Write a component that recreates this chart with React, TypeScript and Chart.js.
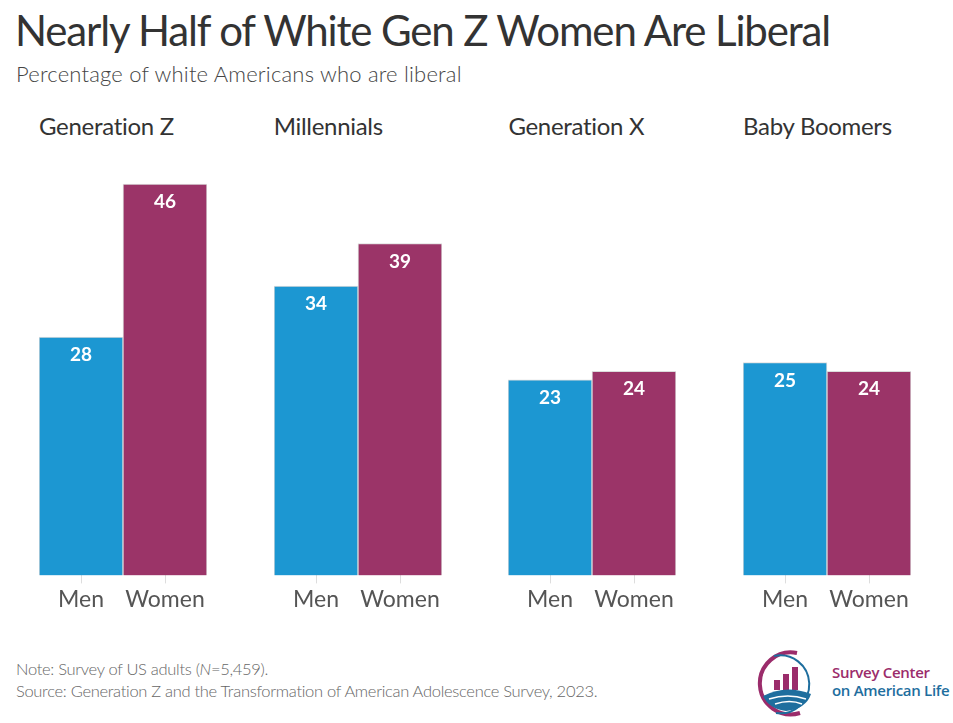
import React, { useEffect, useRef } from "react";
import { Chart, registerables } from "chart.js";

Chart.register(...registerables);

const panels = ["Generation Z", "Millennials", "Generation X", "Baby Boomers"];
const genders = ["Men", "Women"];
const menValues = [28, 34, 23, 25];
const womenValues = [46, 39, 24, 24];

const BLUE = "#1C97D2";
const PURPLE = "#9B3468";
const FONT = "Lato, 'Noto Sans', sans-serif";

const valueLabels = {
  id: "valueLabels",
  afterDatasetsDraw(chart: any) {
    const ctx = chart.ctx;
    const meta = chart.getDatasetMeta(0);
    const data = chart.data.datasets[0].data as number[];
    ctx.save();
    ctx.fillStyle = "#ffffff";
    ctx.font = `bold 19px ${FONT}`;
    ctx.textAlign = "center";
    ctx.textBaseline = "middle";
    meta.data.forEach((bar: any, i: number) => {
      ctx.fillText(String(data[i]), bar.x, bar.y + 18);
    });
    ctx.restore();
  },
};

function Panel({ index }: { index: number }) {
  const ref = useRef<HTMLCanvasElement | null>(null);
  useEffect(() => {
    if (!ref.current) return;
    const chart = new Chart(ref.current, {
      type: "bar",
      data: {
        labels: genders,
        datasets: [
          {
            data: [menValues[index], womenValues[index]],
            backgroundColor: [BLUE, PURPLE],
            borderColor: "#dcdcdc",
            borderWidth: 1,
            categoryPercentage: 1,
            barPercentage: 1,
          },
        ],
      },
      options: {
        animation: false,
        responsive: false,
        maintainAspectRatio: false,
        layout: { padding: 0 },
        plugins: {
          legend: { display: false },
          tooltip: { enabled: false },
          title: { display: false },
        },
        scales: {
          x: {
            grid: {
              display: true,
              offset: false,
              drawOnChartArea: false,
              drawTicks: true,
              tickLength: 8,
              color: "#dddddd",
            },
            border: { display: false },
            ticks: {
              color: "#555555",
              font: { family: FONT, size: 23 },
              padding: 2,
              maxRotation: 0,
              minRotation: 0,
              autoSkip: false,
            },
          },
          y: {
            display: false,
            min: 0,
            max: 50,
          },
        },
      },
      plugins: [valueLabels],
    });
    return () => chart.destroy();
  }, [index]);

  const left = 39 + index * 234.7;
  return (
    <>
      <div
        style={{
          position: "absolute",
          left: left,
          top: 111,
          fontFamily: FONT,
          fontSize: 24,
          color: "#333333",
          letterSpacing: -0.3,
          whiteSpace: "nowrap",
        }}
      >
        {panels[index]}
      </div>
      <canvas
        ref={ref}
        width={168}
        height={465}
        style={{ position: "absolute", left: left, top: 150, width: 168, height: 465 }}
      />
    </>
  );
}

function Logo() {
  return (
    <div style={{ position: "absolute", left: 753, top: 649, width: 200, height: 70 }}>
      <svg width="66" height="70" viewBox="0 0 66 70" style={{ position: "absolute", left: 0, top: 0 }}>
        <path d="M 44 4 A 31 31 0 1 0 47 64" fill="none" stroke="#9B2C6B" strokeWidth="4" />
        <path d="M 21 7 A 29 29 0 1 1 23 64" fill="none" stroke="#1E6E9E" strokeWidth="2" />
        <rect x="21" y="31" width="6" height="10" fill="#9B2C6B" />
        <rect x="30" y="25" width="6" height="16" fill="#9B2C6B" />
        <rect x="39" y="18" width="6" height="23" fill="#9B2C6B" />
        <path d="M 10 47 Q 33 35 58 45 Q 53 60 33 62 Q 16 60 10 47 Z" fill="#1E6E9E" />
        <path d="M 16 50 Q 35 44 53 50" fill="none" stroke="#ffffff" strokeWidth="1.5" />
        <path d="M 22 55 Q 37 50 49 55" fill="none" stroke="#ffffff" strokeWidth="1.5" />
      </svg>
      <div
        style={{
          position: "absolute",
          left: 79,
          top: 14,
          fontFamily: "'Open Sans', sans-serif",
          fontWeight: 600,
          fontSize: 15,
          lineHeight: "18px",
          whiteSpace: "nowrap",
          letterSpacing: -0.3,
        }}
      >
        <div style={{ color: "#9B2C6B" }}>Survey Center</div>
        <div style={{ color: "#1E6E9E" }}>on American Life</div>
      </div>
    </div>
  );
}

export default function App() {
  return (
    <div
      style={{
        position: "absolute",
        left: 0,
        top: 0,
        width: 953,
        height: 723,
        background: "#ffffff",
        overflow: "hidden",
      }}
    >
      <div
        style={{
          position: "absolute",
          left: 15,
          top: 5,
          fontFamily: FONT,
          fontSize: 42,
          color: "#333333",
          letterSpacing: -1.15,
          whiteSpace: "nowrap",
        }}
      >
        Nearly Half of White Gen Z Women Are Liberal
      </div>
      <div
        style={{
          position: "absolute",
          left: 16,
          top: 60,
          fontFamily: FONT,
          fontSize: 22,
          color: "#444444",
          whiteSpace: "nowrap",
          fontWeight: 300,
          letterSpacing: 0.2,
        }}
      >
        Percentage of white Americans who are liberal
      </div>
      {panels.map((_, i) => (
        <Panel key={i} index={i} />
      ))}
      <div
        style={{
          position: "absolute",
          left: 16,
          top: 658,
          fontFamily: FONT,
          fontSize: 16.5,
          lineHeight: "22px",
          color: "#666666",
          fontWeight: 300,
          whiteSpace: "nowrap",
          letterSpacing: -0.3,
        }}
      >
        <div>
          Note: Survey of US adults (<i>N</i>=5,459).
        </div>
        <div>Source: Generation Z and the Transformation of American Adolescence Survey, 2023.</div>
      </div>
      <Logo />
    </div>
  );
}
